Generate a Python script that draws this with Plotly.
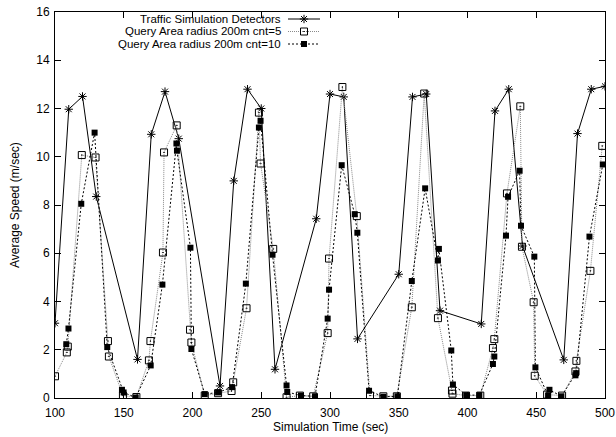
import plotly.graph_objects as go

# ---------------- data ----------------
det_t = [100, 110, 120, 130, 160, 170, 180, 190, 220, 230, 240, 250, 260, 290, 300, 310,
         320, 350, 360, 370, 380, 410, 420, 430, 440, 470, 480, 490, 500]
det_v = [3.1, 11.97, 12.5, 8.35, 1.6, 10.93, 12.7, 10.75, 0.5, 9.0, 12.8, 12.0, 1.19, 7.43,
         12.6, 12.48, 2.45, 5.13, 12.48, 12.6, 3.62, 3.07, 11.9, 12.8, 6.3, 1.58, 10.96, 12.8, 12.92]

q5_t = [100, 108.6, 109.3, 119.5, 129.5, 138.5, 139.2, 149.4, 159.2, 168.3, 169.4, 178.5, 179.3,
        188.5, 198.2, 199.2, 208.9, 218.6, 228.4, 229.6, 239.3, 248.3, 249.5, 258.7, 268.4,
        278.1, 287.8, 298.3, 299.3, 309.0, 319.5, 329.1, 338.8, 348.6, 359.5, 368.5, 378.5,
        388.7, 389.1, 398.9, 409.3, 418.5, 419.5, 428.7, 438.4, 439.6, 448.1, 448.9, 457.9,
        468.8, 478.5, 479.2, 489.4, 498.0]
q5_v = [0.9, 1.89, 2.13, 10.07, 9.97, 2.36, 1.72, 0.1, 0.04, 1.56, 2.36, 6.03, 10.18,
        11.3, 2.83, 2.3, 0.1, 0.2, 0.29, 0.65, 3.72, 11.83, 9.72, 6.18, 0.03,
        0.1, 0.07, 2.69, 5.78, 12.89, 7.54, 0.1, 0.07, 0.07, 3.76, 12.62, 3.31,
        0.31, 0.18, 0.1, 0.1, 2.07, 2.44, 8.48, 12.09, 6.27, 3.97, 0.92, 0.14,
        0.1, 1.1, 1.54, 5.27, 10.45]

q10_t = [108.2, 109.8, 119.1, 128.8, 138.0, 148.7, 149.9, 158.7, 169.6, 178.1, 188.3, 188.7,
         198.5, 199.2, 208.9, 218.6, 228.8, 238.8, 248.3, 249.5, 258.2, 268.4, 268.9, 278.9,
         289.1, 298.3, 299.3, 308.5, 318.0, 319.9, 328.4, 338.8, 349.0, 359.5, 369.2, 378.5,
         379.2, 388.2, 389.4, 399.1, 408.6, 418.5, 419.5, 428.0, 429.5, 437.9, 438.9, 448.6,
         449.4, 458.6, 459.6, 468.3, 478.5, 479.0, 488.7, 498.4]
q10_v = [2.23, 2.88, 8.05, 11.0, 2.11, 0.34, 0.23, 0.02, 1.35, 4.7, 10.55, 10.25,
         6.23, 2.03, 0.16, 0.23, 0.45, 4.74, 11.21, 11.49, 5.94, 0.52, 0.25, 0.1,
         0.07, 3.29, 4.49, 9.65, 7.62, 6.85, 0.3, 0.05, 0.07, 4.85, 8.69, 5.7,
         6.18, 1.97, 0.56, 0.12, 0.12, 1.41, 1.72, 6.73, 8.34, 9.42, 7.14, 5.86,
         1.27, 0.1, 0.34, 0.07, 0.94, 1.03, 6.69, 9.68]

series_names = ["Traffic Simulation Detectors",
                "Query Area radius 200m cnt=5",
                "Query Area radius 200m cnt=10"]

x_ticks = [100, 150, 200, 250, 300, 350, 400, 450, 500]
y_ticks = [0, 2, 4, 6, 8, 10, 12, 14, 16]
x_title = "Simulation Time (sec)"
y_title = "Average Speed (m/sec)"

# ---------------- styles ----------------
FONT = "Liberation Sans, Arial, Helvetica, sans-serif"
FS = 12
KEY_FS = 11.5
styles = [
    dict(line=dict(color="black", width=1),
         marker=dict(symbol="asterisk-open", size=7, color="black", line=dict(color="black", width=1))),
    dict(line=dict(color="#8a8a8a", width=1, dash="1px,1px"),
         marker=dict(symbol="square-open-dot", size=7, color="black", line=dict(color="black", width=1))),
    dict(line=dict(color="black", width=1, dash="2px,2px"),
         marker=dict(symbol="square", size=6, color="black", line=dict(color="black", width=0))),
]

fig = go.Figure()
for (xs, ys), name, st in zip([(det_t, det_v), (q5_t, q5_v), (q10_t, q10_v)], series_names, styles):
    fig.add_trace(go.Scatter(x=xs, y=ys, mode="lines+markers", name=name,
                             line=st["line"], marker=st["marker"], showlegend=False))

# ---------------- layout geometry (pixels) ----------------
W, H = 616, 437
ML, MR, MT, MB = 55, 11, 12, 39
PW, PH = W - ML - MR, H - MT - MB

def px_x(px):
    return (px - ML) / PW

def px_y(py):
    return (H - MB - py) / PH

# gnuplot-style key: text right aligned, sample on the right
key_text_right = 283
key_sample = (288, 320)
key_rows = [19, 31.5, 44]

for name, st, row in zip(series_names, styles, key_rows):
    yk = H - MB - row
    fig.add_annotation(x=px_x(key_text_right), y=px_y(row), xref="paper", yref="paper",
                       text=name, showarrow=False, xanchor="right", yanchor="middle",
                       font=dict(family=FONT, size=KEY_FS, color="black"))
    fig.add_trace(go.Scatter(x=[key_sample[0] - ML, key_sample[1] - ML], y=[yk, yk],
                             mode="lines", line=st["line"], xaxis="x2", yaxis="y2",
                             showlegend=False, hoverinfo="skip"))
    fig.add_trace(go.Scatter(x=[(key_sample[0] + key_sample[1]) / 2 - ML], y=[yk],
                             mode="markers", marker=st["marker"], xaxis="x2", yaxis="y2",
                             showlegend=False, hoverinfo="skip"))

# axis titles
fig.add_annotation(x=px_x(ML + PW / 2), y=px_y(427), xref="paper", yref="paper",
                   text=x_title, showarrow=False, xanchor="center", yanchor="middle",
                   font=dict(family=FONT, size=FS, color="black"))
fig.add_annotation(x=px_x(15), y=px_y(MT + PH / 2), xref="paper", yref="paper",
                   text=y_title, showarrow=False, xanchor="center", yanchor="middle",
                   textangle=-90, font=dict(family=FONT, size=FS, color="black"))

axis_common = dict(showline=True, linecolor="black", linewidth=1, mirror="allticks",
                   ticks="inside", ticklen=6, tickcolor="black", tickwidth=1,
                   showgrid=False, zeroline=False, automargin=False,
                   tickfont=dict(family=FONT, size=FS, color="black"))

fig.update_layout(
    width=W, height=H,
    margin=dict(l=ML, r=MR, t=MT, b=MB),
    paper_bgcolor="white", plot_bgcolor="white",
    font=dict(family=FONT, size=FS, color="black"),
    showlegend=False,
    xaxis=dict(range=[100, 500], tickvals=x_ticks, ticktext=[str(v) for v in x_ticks],
               ticklabelstandoff=4, **axis_common),
    yaxis=dict(range=[0, 16], tickvals=y_ticks, ticktext=[str(v) for v in y_ticks],
               ticklabelstandoff=2, **axis_common),
    xaxis2=dict(overlaying="x", range=[0, PW], visible=False, anchor="y2"),
    yaxis2=dict(overlaying="y", range=[0, PH], visible=False, anchor="x2"),
)

fig.write_html("out.html", config={"displayModeBar": False},
               post_script="document.body.style.margin='0px';")
